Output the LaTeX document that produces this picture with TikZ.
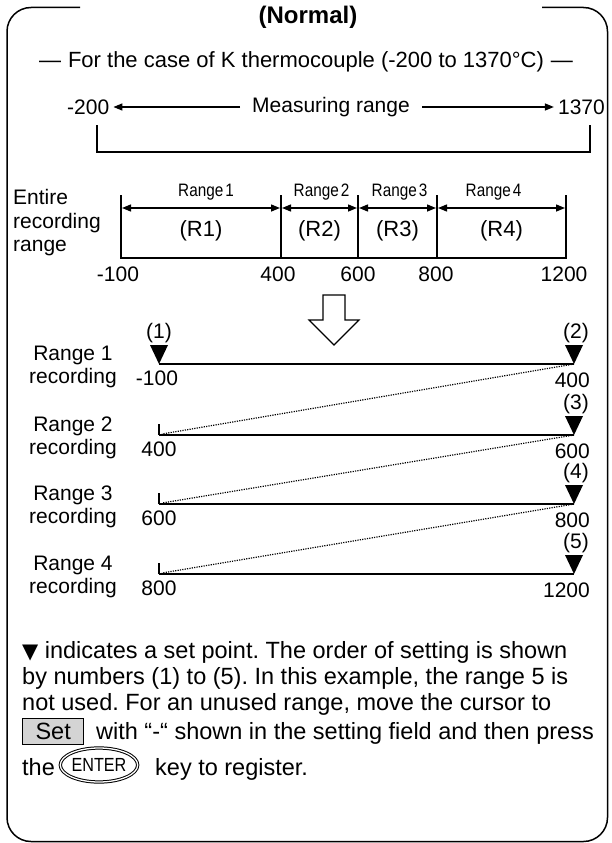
\documentclass[tikz,border=0pt]{standalone}
\usepackage{fontspec}
\setmainfont{Liberation Sans}
\newfontfamily\narrowfont[FakeStretch=0.85]{Liberation Sans}
\newfontfamily\symfont{DejaVu Sans}
\usetikzlibrary{arrows.meta,calc,shapes.geometric}
\begin{document}
\frenchspacing
\begin{tikzpicture}[x=1pt,y=-1pt,
  txt/.style={inner sep=0pt, font=\fontsize{21}{24}\selectfont},
  ptxt/.style={inner sep=0pt, anchor=base west, font=\fontsize{23.5}{26}\selectfont},
  rlab/.style={inner sep=0pt, font=\narrowfont\fontsize{18}{20}\selectfont},
  rbig/.style={inner sep=0pt, font=\fontsize{22}{24}\selectfont},
  ln/.style={line width=1.4pt},
  arr/.style={line width=1.4pt, -{Triangle[length=9pt,width=7pt]}},
  darr/.style={line width=1.4pt, {Triangle[length=9pt,width=7pt]}-{Triangle[length=9pt,width=7pt]}},
  dots/.style={line width=1.2pt, dash pattern=on 1.2pt off 1.2pt},
  setmark/.style={fill=black},
]
\useasboundingbox (0,0) rectangle (611,843);
% frame
\draw[line width=1.5pt, rounded corners=24pt] (80,7.5) -- (7,7.5) -- (7,841.5) -- (607.5,841.5) -- (607.5,7.5) -- (542,7.5);
% title
\node[inner sep=0pt, font=\bfseries\fontsize{24}{26}\selectfont] (title) at (308,17) {(Normal)};
\node[txt, font=\fontsize{22}{24}\selectfont] (sub) at (306,62) {—\hspace{7pt}For the case of K thermocouple (-200 to 1370°C)\hspace{7pt}—};
% measuring range
\node[txt, anchor=west] (m200) at (67,107) {-200};
\node[txt] (mr) at (331,107) {Measuring range};
\node[txt, anchor=east] (m1370) at (605,107) {1370};
\coordinate (ma1) at (240,107);
\coordinate (ma2) at (422,107);
\draw[arr] (ma1) -- ([xshift=4pt]m200.east);
\draw[arr] (ma2) -- ([xshift=-4pt]m1370.west);
% bracket
\coordinate (bk1) at (97,125);
\coordinate (bk2) at (590,125);
\draw[ln] (bk1) -- ++(0,27) -| (bk2);
% entire recording range
\node[txt, anchor=west] (e1) at (13,197) {Entire};
\node[txt, anchor=west] (e2) at (13,223) {recording};
\node[txt, anchor=west] (e3) at (13,248) {range};
\foreach \i/\x in {1/121,2/281,3/358,4/437,5/566}{
  \coordinate (s\i) at (\x,195);
  \coordinate (u\i) at (\x,258);
}
\draw[ln] (s1) -- (u1) -- (u5) -- (s5);
\draw[ln] (s2) -- (u2);
\draw[ln] (s3) -- (u3);
\draw[ln] (s4) -- (u4);
\foreach \i/\j in {1/2,2/3,3/4,4/5}{
  \draw[darr] ($(s\i)+(1,13)$) -- ($(s\j)+(-1,13)$);
}
\node[rlab] (rl1) at ($(s1)!0.5!(s2)+(5,-3)$) {Range\hspace{2pt}1};
\node[rlab] (rl2) at ($(s2)!0.5!(s3)+(2,-3)$) {Range\hspace{2pt}2};
\node[rlab] (rl3) at ($(s3)!0.5!(s4)+(2,-3)$) {Range\hspace{2pt}3};
\node[rlab] (rl4) at ($(s4)!0.5!(s5)+(-8,-3)$) {Range\hspace{2pt}4};
\node[rbig] (r1) at ($(s1)!0.5!(s2)+(0,36)$) {(R1)};
\node[rbig] (r2) at ($(s2)!0.5!(s3)+(0,36)$) {(R2)};
\node[rbig] (r3) at ($(s3)!0.5!(s4)+(0,36)$) {(R3)};
\node[rbig] (r4) at ($(s4)!0.5!(s5)+(0,36)$) {(R4)};
\node[txt] (n1) at (118,274) {-100};
\node[txt] (n2) at (278,274) {400};
\node[txt] (n3) at (358,274) {600};
\node[txt] (n4) at (436,274) {800};
\node[txt] (n5) at (564,274) {1200};
% hollow arrow
\draw[line width=1.1pt, fill=white] (323,295) -- (345,295) -- (345,320) -- (359,320) -- (334,345) -- (309,320) -- (323,320) -- cycle;
% recording rows
\foreach \k/\y in {1/364,2/435,3/504,4/574}{
  \coordinate (L\k) at (159,\y);
  \coordinate (R\k) at (574,\y);
  \draw[ln] (L\k) -- (R\k);
  \fill[setmark] (R\k) -- ++(-9,-19) -- ++(18,0) -- cycle;
  \node[txt] (rg\k) at (73,\y-9) {Range \k};
  \node[txt] (rc\k) at (73,\y+14) {recording};
}
\fill[setmark] (L1) -- ++(-9,-19) -- ++(18,0) -- cycle;
\foreach \k in {2,3,4}{
  \draw[ln] (L\k) -- ++(0,-11);
}
\draw[dots] (R1) -- ($(L2)+(3,-1)$);
\draw[dots] (R2) -- ($(L3)+(3,-1)$);
\draw[dots] (R3) -- ($(L4)+(3,-1)$);
\node[txt] (p1) at ($(L1)+(0,-31)$) {(1)};
\node[txt] (p2) at ($(R1)+(2,-31)$) {(2)};
\node[txt] (p3) at ($(R2)+(2,-31)$) {(3)};
\node[txt] (p4) at ($(R3)+(2,-31)$) {(4)};
\node[txt] (p5) at ($(R4)+(2,-31)$) {(5)};
\node[txt] (v1l) at ($(L1)+(-2,14)$) {-100};
\node[txt] (v2l) at ($(L2)+(0,14)$) {400};
\node[txt] (v3l) at ($(L3)+(0,14)$) {600};
\node[txt] (v4l) at ($(L4)+(0,14)$) {800};
\node[txt, anchor=east] (v1r) at ($(R1)+(16,16)$) {400};
\node[txt, anchor=east] (v2r) at ($(R2)+(16,16)$) {600};
\node[txt, anchor=east] (v3r) at ($(R3)+(16,16)$) {800};
\node[txt, anchor=east] (v4r) at ($(R4)+(16,16)$) {1200};
% paragraph
\node[ptxt] (t1) at (22,658) {{\symfont\fontsize{21}{22}\selectfont ▼} indicates a set point. The order of setting is shown};
\node[ptxt] (t2) at (22,684) {by numbers (1) to (5). In this example, the range 5 is};
\node[ptxt] (t3) at (22,710) {not used. For an unused range, move the cursor to};
\node[draw, line width=1.3pt, fill=black!17, minimum width=61pt, minimum height=26pt, inner sep=0pt, anchor=north west, font=\fontsize{23.5}{26}\selectfont] (set) at (22,718) {Set};
\node[ptxt] (t4) at (96,739) {with “-“ shown in the setting field and then press};
\node[ptxt] (t5) at (22,775) {the};
\node[draw, ellipse, double, double distance=1.3pt, line width=1pt, minimum width=68pt, minimum height=34pt, inner sep=0pt, font=\narrowfont\fontsize{19}{21}\selectfont] (enter) at (99,765) {ENTER};
\node[ptxt] (t6) at (155,775) {key to register.};
\end{tikzpicture}
\end{document}
